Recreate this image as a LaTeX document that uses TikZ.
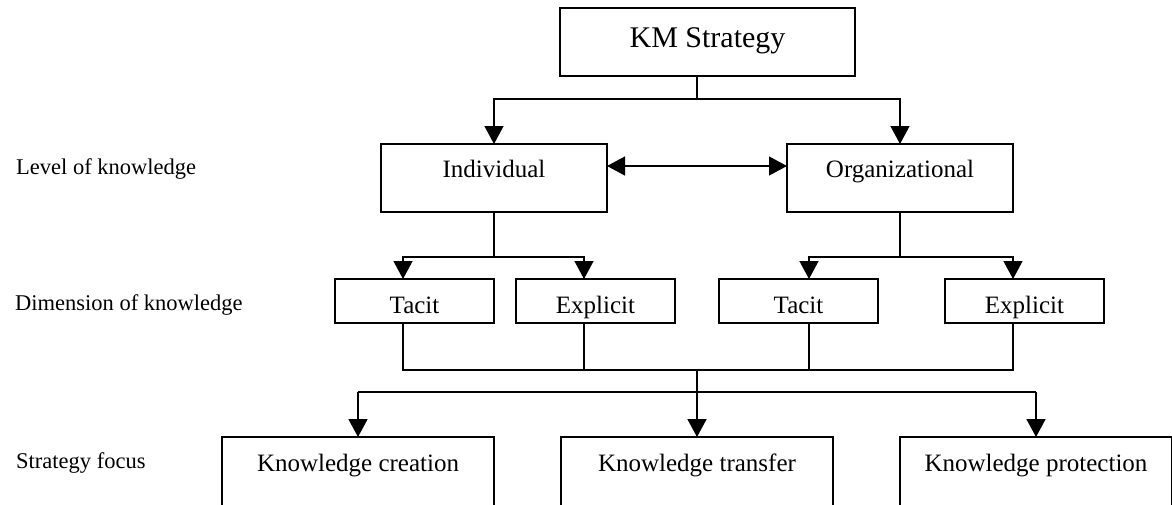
\documentclass[tikz,border=0pt]{standalone}
\usepackage{fontspec}
\setmainfont{Liberation Serif}
\usetikzlibrary{arrows.meta, positioning}

\begin{document}
\begin{tikzpicture}[x=1pt, y=-1pt,
  box/.style={draw, line width=1.3pt, inner sep=0pt, outer sep=0pt, font=\fontsize{25}{30}\selectfont},
  level/.style={box, minimum width=226pt, minimum height=68pt, text height=33pt, text depth=35pt},
  dimbox/.style={box, minimum width=159pt, minimum height=44pt, text height=34pt, text depth=10pt},
  focus/.style={box, minimum width=272pt, minimum height=69pt, text height=34pt, text depth=35pt},
  side/.style={anchor=base west, inner sep=0pt, font=\fontsize{22.5}{27}\selectfont},
  conn/.style={line width=1.3pt},
  arr/.style={conn, -{Triangle[length=18pt, width=19pt]}},
  arrb/.style={arr, line width=1.8pt},
  dbl/.style={conn, {Triangle[length=18pt, width=19pt]}-{Triangle[length=18pt, width=19pt]}}
]
\useasboundingbox (0,0) rectangle (1172,504);
\clip (0,0) rectangle (1172,504);

\node[box, minimum width=295pt, minimum height=68pt, text height=39pt, text depth=29pt, font=\fontsize{30}{36}\selectfont] (km) at (707.5,42) {KM Strategy};

\node[level] (ind) at (494,178) {Individual};
\node[level, right=180pt of ind] (org) {Organizational};

\node[dimbox] (t1) at (414.5,301) {Tacit};
\node[dimbox, right=22pt of t1] (e1) {Explicit};
\node[dimbox] (t2) at (798.5,301) {Tacit};
\node[dimbox, right=67pt of t2] (e2) {Explicit};

\node[focus] (kc) at (358,471.5) {Knowledge creation};
\node[focus, right=67pt of kc] (kt) {Knowledge transfer};
\node[focus, right=67pt of kt] (kp) {Knowledge protection};

\node[side] (lvl) at (16,174) {Level of knowledge};
\node[side] (dim) at (15,310) {Dimension of knowledge};
\node[side] (foc) at (16,468) {Strategy focus};

\coordinate (s1) at (697,99);
\draw[conn] (km.south -| s1) -- (s1);
\draw[arr] (s1) -| (ind.north);
\draw[arr] (s1) -| (org.north);
\draw[dbl] ([yshift=12pt]ind.east) -- ([yshift=12pt]org.west);

\coordinate (s2) at ([yshift=-45pt]ind.south);
\coordinate (s3) at ([yshift=-45pt]org.south);
\draw[conn] (ind.south) -- (s2);
\draw[conn] (org.south) -- (s3);
\draw[arr] (s2) -| ([xshift=-11.5pt]t1.north);
\draw[arr] (s2) -| ([xshift=-11.5pt]e1.north);
\draw[arr] (s3) -| ([xshift=10.5pt]t2.north);
\draw[arr] (s3) -| ([xshift=-11.5pt]e2.north);

\coordinate (d1) at ([xshift=-11.5pt]t1.south);
\coordinate (d2) at ([xshift=-11.5pt]e1.south);
\coordinate (d3) at ([xshift=10.5pt]t2.south);
\coordinate (d4) at ([xshift=-11.5pt]e2.south);
\coordinate (m) at (697,370);
\draw[conn] (d1) |- (d4 |- m) -- (d4);
\draw[conn] (d2) -- (d2 |- m);
\draw[conn] (d3) -- (d3 |- m);

\coordinate (s4) at (697,392);
\draw[conn] (m) -- (s4);
\draw[conn] (s4 -| kc.north) -- (s4 -| kp.north);
\draw[arrb] (s4) -- (kt.north);
\draw[arrb] (s4 -| kc.north) -- (kc.north);
\draw[arrb] (s4 -| kp.north) -- (kp.north);
\end{tikzpicture}
\end{document}
